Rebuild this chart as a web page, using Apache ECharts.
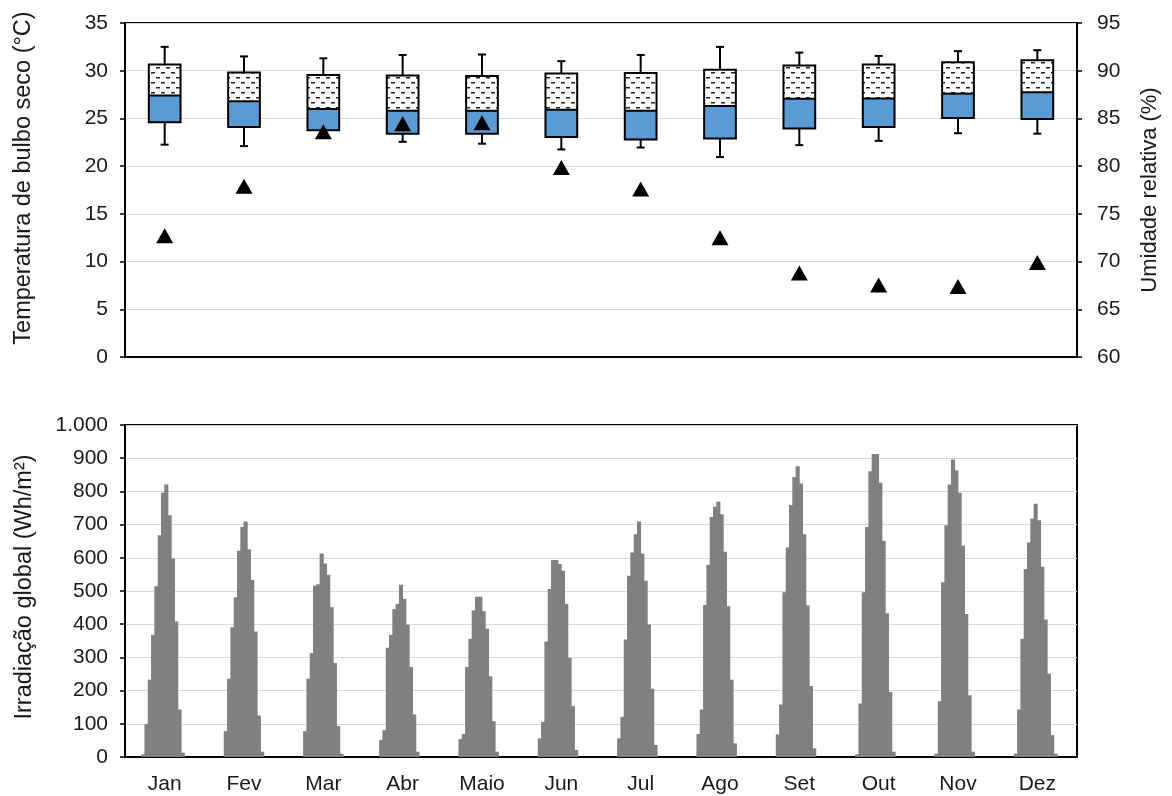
<!DOCTYPE html>
<html>
<head>
<meta charset="utf-8">
<script src="https://cdn.jsdelivr.net/npm/echarts@6/dist/echarts.min.js"></script>
<style>
  html, body { margin: 0; padding: 0; background: #fff; }
  #chart { width: 1172px; height: 796px; }
</style>
</head>
<body>
<div id="chart"></div>
<script>
// Months of the year
const months = ['Jan', 'Fev', 'Mar', 'Abr', 'Maio', 'Jun', 'Jul', 'Ago', 'Set', 'Out', 'Nov', 'Dez'];

// Dry-bulb temperature per month (°C): whisker min, lower quartile, median, upper quartile, whisker max
const tempMin    = [22.25, 22.1, 23.0, 22.55, 22.35, 21.75, 21.95, 20.95, 22.2, 22.65, 23.45, 23.4];
const tempQ1     = [24.6, 24.1, 23.75, 23.4, 23.4, 23.05, 22.8, 22.9, 23.95, 24.1, 25.05, 24.95];
const tempMedian = [27.4, 26.8, 26.0, 25.8, 25.8, 25.9, 25.8, 26.3, 27.05, 27.1, 27.6, 27.75];
const tempQ3     = [30.65, 29.8, 29.55, 29.5, 29.45, 29.7, 29.75, 30.1, 30.55, 30.65, 30.9, 31.1];
const tempMax    = [32.5, 31.5, 31.3, 31.65, 31.7, 31.0, 31.65, 32.5, 31.9, 31.55, 32.05, 32.15];

// Mean relative humidity per month (%)
const humidity = [72.7, 77.9, 83.6, 84.45, 84.55, 79.85, 77.6, 72.5, 68.8, 67.55, 67.4, 69.9];

// Hourly global irradiation profile (Wh/m², hours 0..23) for each month
const irrJan  = [0,0,0,0,0,8,99,233,368,514,668,796,821,728,598,408,143,13,0,0,0,0,0,0];
const irrFev  = [0,0,0,0,0,0,78,236,391,481,621,693,709,626,533,378,125,16,0,0,0,0,0,0];
const irrMar  = [0,0,0,0,0,0,78,236,313,516,520,613,583,549,451,283,93,10,0,0,0,0,0,0];
const irrAbr  = [0,0,0,0,0,51,81,329,368,446,461,519,476,398,271,128,16,0,0,0,0,0,0,0];
const irrMaio = [0,0,0,0,0,54,69,271,356,441,483,483,439,386,243,108,16,0,0,0,0,0,0,0];
const irrJun  = [0,0,0,0,0,56,106,348,506,593,593,581,561,461,299,153,21,0,0,0,0,0,0,0];
const irrJul  = [0,0,0,0,0,56,121,354,546,616,671,709,613,531,399,206,36,0,0,0,0,0,0,0];
const irrAgo  = [0,0,0,0,0,69,143,458,579,723,754,769,731,618,454,233,41,0,0,0,0,0,0,0];
const irrSet  = [0,0,0,0,0,68,158,496,631,759,843,876,824,671,456,214,26,0,0,0,0,0,0,0];
const irrOut  = [0,0,0,0,0,8,161,496,693,861,913,913,826,651,433,196,16,0,0,0,0,0,0,0];
const irrNov  = [0,0,0,0,0,10,168,526,698,821,896,863,796,636,431,186,16,0,0,0,0,0,0,0];
const irrDez  = [0,0,0,0,0,10,143,356,566,646,718,763,713,573,414,251,66,10,0,0,0,0,0,0];

// Tick labels of the irradiation axis (Portuguese thousands separator)
const irrTickLabels = ['0','100','200','300','400','500','600','700','800','900','1.000'];

// ---- derived structures ----
const irrByMonth = [irrJan, irrFev, irrMar, irrAbr, irrMaio, irrJun, irrJul, irrAgo, irrSet, irrOut, irrNov, irrDez];
const hourCats = [];
const irrRows = [];
irrByMonth.forEach((arr, m) => {
  arr.forEach((v, h) => { irrRows.push([hourCats.length, v]); hourCats.push(months[m] + ' ' + h + 'h'); });
});
const boxRows = months.map((_, i) => [i, tempMin[i], tempQ1[i], tempMedian[i], tempQ3[i], tempMax[i]]);

// Small dashed hatch tile for the upper half of each box
const dashTile = document.createElement('canvas');
dashTile.width = 10; dashTile.height = 10;
(function () {
  const c = dashTile.getContext('2d');
  c.fillStyle = '#fff'; c.fillRect(0, 0, 10, 10);
  c.fillStyle = '#222';
  c.fillRect(1, 2, 4, 1.5);
  c.fillRect(6, 7, 4, 1.5);
})();

function renderBox(params, api) {
  const i = api.value(0);
  const pMin = api.coord([i, api.value(1)]);
  const pQ1 = api.coord([i, api.value(2)]);
  const pMed = api.coord([i, api.value(3)]);
  const pQ3 = api.coord([i, api.value(4)]);
  const pMax = api.coord([i, api.value(5)]);
  const x = pMed[0];
  const bw = api.size([1, 0])[0] * 0.4;
  const cap = 8;
  const ln = { stroke: '#000', lineWidth: 2 };
  return {
    type: 'group',
    children: [
      { type: 'line', shape: { x1: x, y1: pMax[1], x2: x, y2: pQ3[1] }, style: ln },
      { type: 'line', shape: { x1: x - cap / 2, y1: pMax[1], x2: x + cap / 2, y2: pMax[1] }, style: ln },
      { type: 'line', shape: { x1: x, y1: pQ1[1], x2: x, y2: pMin[1] }, style: ln },
      { type: 'line', shape: { x1: x - cap / 2, y1: pMin[1], x2: x + cap / 2, y2: pMin[1] }, style: ln },
      { type: 'rect', shape: { x: x - bw / 2, y: pMed[1], width: bw, height: pQ1[1] - pMed[1] }, style: { fill: '#5b9bd5' } },
      { type: 'rect', shape: { x: x - bw / 2, y: pQ3[1], width: bw, height: pMed[1] - pQ3[1] }, style: { fill: { image: dashTile, repeat: 'repeat' } } },
      { type: 'rect', shape: { x: x - bw / 2, y: pQ3[1], width: bw, height: pQ1[1] - pQ3[1] }, style: { fill: 'transparent', stroke: '#000', lineWidth: 2 } },
      { type: 'line', shape: { x1: x - bw / 2, y1: pMed[1], x2: x + bw / 2, y2: pMed[1] }, style: ln }
    ]
  };
}

// Hourly bars: each bar spans its full hour slot, slightly overlapping neighbours so they join seamlessly
function renderHourBar(params, api) {
  const idx = api.value(0);
  const val = api.value(1);
  if (!val) return null;
  const top = api.coord([idx, val]);
  const base = api.coord([idx, 0]);
  const w = api.size([1, 0])[0];
  return {
    type: 'rect',
    shape: { x: top[0] - w / 2 - 0.4, y: top[1], width: w + 0.8, height: base[1] - top[1] },
    style: { fill: '#808080' }
  };
}

const FONT = 'Liberation Sans, Arial, sans-serif';
const TXT = '#1a1a1a';
const tickLabel = { color: TXT, fontFamily: FONT, fontSize: 21 };
const blackLine = { show: true, lineStyle: { color: '#000', width: 2 } };
const outTick = { show: true, inside: false, length: 5, lineStyle: { color: '#000', width: 1.5 } };
const gridLine = { show: true, lineStyle: { color: '#d9d9d9', width: 1 } };

const chart = echarts.init(document.getElementById('chart'), null, { renderer: 'canvas' });
chart.setOption({
  animation: false,
  backgroundColor: '#fff',
  grid: [
    { left: 125, right: 95, top: 23, height: 334, show: true, borderColor: '#000', borderWidth: 2, backgroundColor: 'transparent' },
    { left: 125, right: 95, top: 425, height: 332, show: true, borderColor: '#000', borderWidth: 2, backgroundColor: 'transparent' }
  ],
  xAxis: [
    { gridIndex: 0, type: 'category', data: months, axisLabel: { show: false }, axisTick: { show: false }, axisLine: blackLine },
    { gridIndex: 1, type: 'category', data: hourCats, show: false },
    { gridIndex: 1, type: 'category', data: months, position: 'bottom', axisTick: { show: false }, axisLine: blackLine,
      axisLabel: Object.assign({ margin: 17 }, tickLabel) }
  ],
  yAxis: [
    { gridIndex: 0, type: 'value', min: 0, max: 35, interval: 5,
      name: 'Temperatura de bulbo seco (°C)', nameLocation: 'middle', nameGap: 89,
      nameTextStyle: { color: TXT, fontFamily: FONT, fontSize: 23.5, padding: [0, 0, 0, 24] },
      axisLine: blackLine, axisTick: outTick, splitLine: gridLine, axisLabel: Object.assign({ margin: 17 }, tickLabel) },
    { gridIndex: 0, type: 'value', position: 'right', min: 60, max: 95, interval: 5,
      name: 'Umidade relativa (%)', nameLocation: 'middle', nameGap: 62,
      nameTextStyle: { color: TXT, fontFamily: FONT, fontSize: 22 },
      axisLine: blackLine, axisTick: outTick, splitLine: { show: false }, axisLabel: Object.assign({ margin: 20 }, tickLabel) },
    { gridIndex: 1, type: 'value', min: 0, max: 1000, interval: 100,
      name: 'Irradiação global (Wh/m²)', nameLocation: 'middle', nameGap: 88,
      nameTextStyle: { color: TXT, fontFamily: FONT, fontSize: 23.5, padding: [0, 0, 0, 8] },
      axisLine: blackLine, axisTick: outTick, splitLine: gridLine,
      axisLabel: Object.assign({ margin: 17, formatter: v => irrTickLabels[Math.round(v / 100)] }, tickLabel) }
  ],
  series: [
    { type: 'custom', name: 'Temperatura', xAxisIndex: 0, yAxisIndex: 0, data: boxRows,
      encode: { x: 0, y: [1, 2, 3, 4, 5] }, renderItem: renderBox, z: 2 },
    { type: 'scatter', name: 'Umidade', xAxisIndex: 0, yAxisIndex: 1, data: humidity,
      symbol: 'triangle', symbolSize: [17, 15], itemStyle: { color: '#000', opacity: 1 }, z: 5 },
    { type: 'custom', name: 'Irradiação', xAxisIndex: 1, yAxisIndex: 2, data: irrRows,
      encode: { x: 0, y: 1 }, renderItem: renderHourBar, z: 2 }
  ]
});
</script>
</body>
</html>
